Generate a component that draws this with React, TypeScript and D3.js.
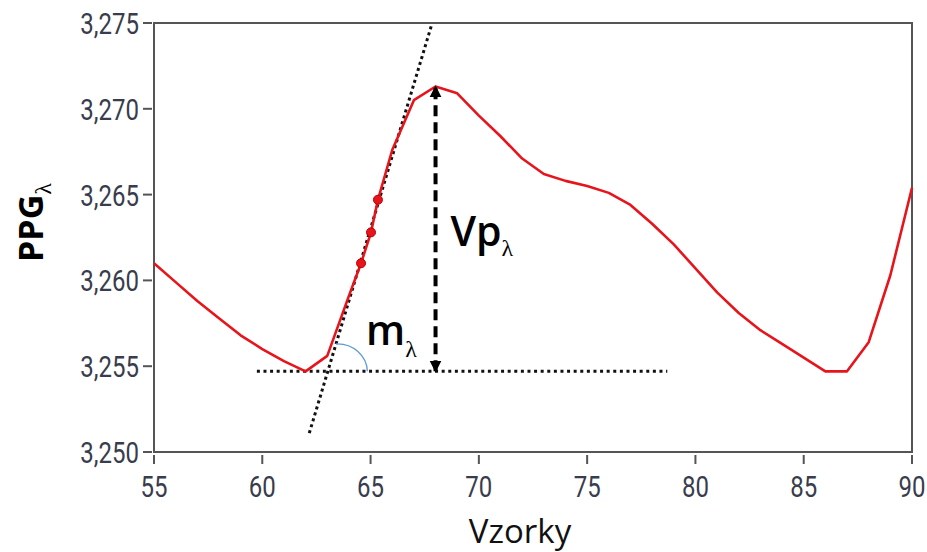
import React from 'react';
import * as d3 from 'd3';

// ---- data ----
const sampleX = [55, 56, 57, 58, 59, 60, 61, 62, 63, 64, 64.56, 65.02, 65.34, 66, 67, 68, 69, 70, 71, 72, 73, 74, 75, 76, 77, 78, 79, 80, 81, 82, 83, 84, 85, 86, 87, 88, 89, 90];
const ppgValues = [3.2610, 3.2599, 3.2588, 3.2578, 3.2568, 3.2560, 3.2553, 3.2547, 3.2556, 3.2591, 3.2610, 3.2628, 3.2647, 3.2676, 3.2705, 3.2713, 3.2709, 3.2696, 3.2684, 3.2671, 3.2662, 3.2658, 3.2655, 3.2651, 3.2644, 3.2633, 3.2621, 3.2607, 3.2593, 3.2581, 3.2571, 3.2563, 3.2555, 3.2547, 3.2547, 3.2564, 3.2603, 3.2654];

const markX = [64.56, 65.02, 65.34];
const markY = [3.2610, 3.2628, 3.2647];

const tangentX = [62.17, 67.82];
const tangentY = [3.2511, 3.2749];

const baseLevel = 3.2547;
const baseRange = [59.75, 78.7];
const peakX = 68;
const peakY = 3.2713;

const xTicks = [55, 60, 65, 70, 75, 80, 85, 90];
const yTicks = [3.250, 3.255, 3.260, 3.265, 3.270, 3.275];

const xTitle = 'Vzorky';
const yTitle = 'PPG';
const vpLabel = 'Vp';
const mLabel = 'm';
const lambda = 'λ';

// ---- layout ----
const W = 927;
const H = 552;
const L = 154, R = 912, T = 23, B = 452;

export default function App() {
  const x = d3.scaleLinear().domain([55, 90]).range([L, R]);
  const y = d3.scaleLinear().domain([3.25, 3.275]).range([B, T]);

  const pts = sampleX.map((sx, i) => [sx, ppgValues[i]] as [number, number]);
  const line = d3.line<[number, number]>().x(d => x(d[0])).y(d => y(d[1]));

  const fmtY = (v: number) => d3.format('.3f')(v).replace('.', ',');

  const tx0 = x(tangentX[0]), ty0 = y(tangentY[0]);
  const tx1 = x(tangentX[1]), ty1 = y(tangentY[1]);
  const arcStartVal = 3.2563;
  const arcStartX = tangentX[0] + (arcStartVal - tangentY[0]) / (tangentY[1] - tangentY[0]) * (tangentX[1] - tangentX[0]);
  const a0x = x(arcStartX), a0y = y(arcStartVal);
  const a1x = x(64.85), a1y = y(baseLevel);

  const tickFont = "Roboto, 'DejaVu Sans', sans-serif";
  const tickColor = '#383c4c';
  const axisColor = '#555';
  const sx = 0.8;

  return (
    <svg width={W} height={H} style={{ position: 'absolute', left: 0, top: 0, background: '#fff' }}>
      <defs>
        <marker id="arrowHead" viewBox="0 0 10 10" refX="9" refY="5" markerWidth="12" markerHeight="13"
          markerUnits="userSpaceOnUse" orient="auto-start-reverse">
          <path d="M0,0 L10,5 L0,10 Z" fill="#000" />
        </marker>
      </defs>
      <rect x={0} y={0} width={W} height={H} fill="#fff" />

      <rect x={L} y={T} width={R - L} height={B - T} fill="none" stroke={axisColor} strokeWidth={2} />

      {yTicks.map(t => (
        <g key={'y' + t}>
          <line x1={L - 11} x2={L - 2} y1={y(t)} y2={y(t)} stroke={axisColor} strokeWidth={2} />
          <g transform={`translate(${L - 15}, ${y(t) + 11}) scale(${sx},1)`}>
            <text x={0} y={0} textAnchor="end" fontFamily={tickFont} fontSize={30} fill={tickColor}>
              {fmtY(t)}
            </text>
          </g>
        </g>
      ))}

      {xTicks.map(t => (
        <g key={'x' + t}>
          <line x1={x(t)} x2={x(t)} y1={B + 3} y2={B + 12} stroke={axisColor} strokeWidth={2} />
          <g transform={`translate(${x(t)}, ${B + 45}) scale(${sx},1)`}>
            <text x={0} y={0} textAnchor="middle" fontFamily={tickFont} fontSize={30} fill={tickColor}>
              {t}
            </text>
          </g>
        </g>
      ))}

      <line x1={x(baseRange[0])} x2={x(baseRange[1])} y1={y(baseLevel)} y2={y(baseLevel)}
        stroke="#111" strokeWidth={3} strokeDasharray="3,3.6" />

      <line x1={tx0} y1={ty0} x2={tx1} y2={ty1} stroke="#111" strokeWidth={3} strokeDasharray="3,3.2" />

      <path d={`M${a0x},${a0y} A30,28 0 0 1 ${a1x},${a1y}`} fill="none" stroke="#5b9bd5" strokeWidth={1.3} />

      <path d={line(pts) || ''} fill="none" stroke="#e8141c" strokeWidth={2.6} strokeLinejoin="round" />

      {markX.map((mx, i) => (
        <circle key={'m' + i} cx={x(mx)} cy={y(markY[i])} r={4.5} fill="#e8141c" stroke="#b00" strokeWidth={1} />
      ))}

      <line x1={x(peakX)} x2={x(peakX)} y1={y(baseLevel)} y2={y(peakY)}
        stroke="#000" strokeWidth={4} strokeDasharray="11,6"
        markerStart="url(#arrowHead)" markerEnd="url(#arrowHead)" />

      <text x={x(peakX) + 15} y={y(peakY) + 160} fontFamily="'Open Sans', sans-serif" fontWeight={600} fontSize={41} fill="#000">
        {vpLabel}
        <tspan fontFamily="'Liberation Serif', serif" fontWeight={400} fontSize={24} dy={10}>{lambda}</tspan>
      </text>
      <text x={a0x + 30} y={y(baseLevel) - 26} fontFamily="'Open Sans', sans-serif" fontWeight={600} fontSize={41} fill="#000">
        {mLabel}
        <tspan fontFamily="'Liberation Serif', serif" fontWeight={400} fontSize={24} dy={12}>{lambda}</tspan>
      </text>

      <text x={520} y={543} textAnchor="middle" fontFamily="'Open Sans', sans-serif" fontSize={33} fill="#111">
        {xTitle}
      </text>
      <g transform={`translate(43, 262) rotate(-90)`}>
        <text x={0} y={0} fontFamily="'Open Sans', sans-serif" fontWeight={700} fontSize={34} fill="#000">
          {yTitle}
          <tspan fontFamily="'Liberation Serif', serif" fontWeight={400} fontSize={24} dy={8}>{lambda}</tspan>
        </text>
      </g>
    </svg>
  );
}
